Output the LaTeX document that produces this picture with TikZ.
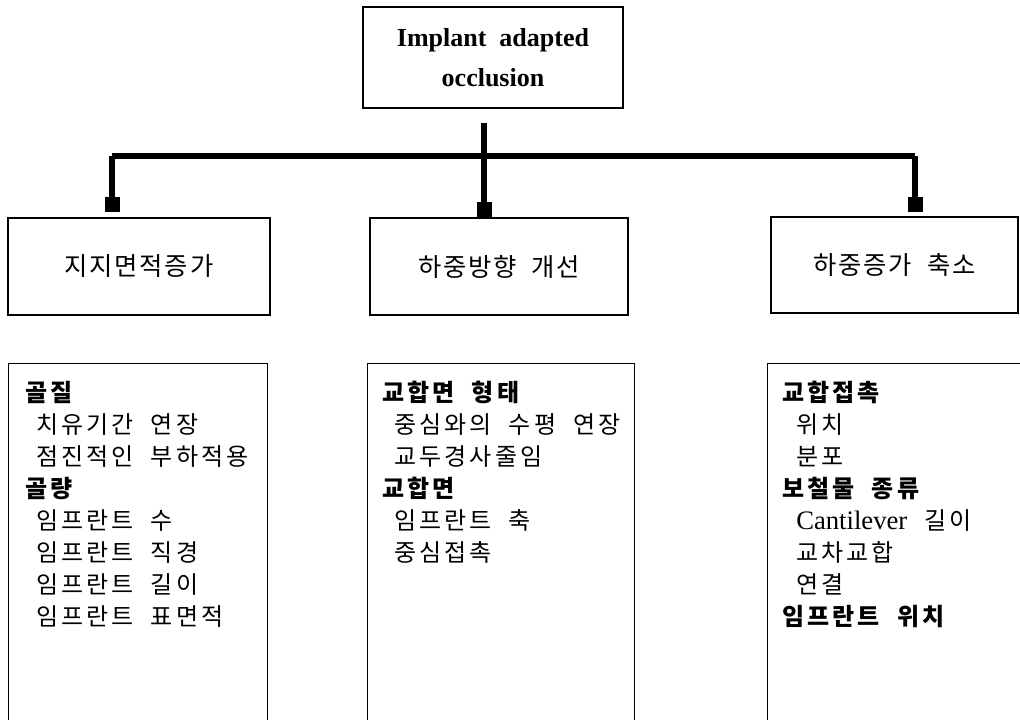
\documentclass[tikz,border=0pt]{standalone}
\usepackage{fontspec}
\setmainfont{Liberation Serif}
\newfontfamily\kr[LetterSpace=13,WordSpace=2]{Noto Sans CJK KR}
\newfontfamily\krm[LetterSpace=7,WordSpace=2]{Noto Sans CJK KR}
\usetikzlibrary{arrows.meta}
\begin{document}
\begin{tikzpicture}[x=0.75pt,y=-0.75pt,
  box/.style={draw, line width=0.8pt, inner sep=0pt, align=center},
  midtxt/.style={font=\krm\fontsize{19}{24}\selectfont},
  head/.style={font=\kr\bfseries\fontsize{18}{24}\selectfont, anchor=base west, inner sep=0pt},
  item/.style={font=\kr\fontsize{18}{24}\selectfont, anchor=base west, inner sep=0pt},
  bar/.style={line width=5pt},
  drop/.style={line width=4.5pt, -{Square[length=11.25pt,width=11.25pt]}},
]
\useasboundingbox (0,0) rectangle (1020,720);
\clip (0,0) rectangle (1020,720);

% top node
\node[box, minimum width=195pt, minimum height=75.75pt,
      font=\bfseries\fontsize{19.5}{30}\selectfont] (top) at (493,57.5)
      {Implant\ \ adapted\\occlusion};

% middle tier
\node[box, midtxt, minimum width=196.5pt, minimum height=72.75pt] (b1) at (139,266.5) {지지면적증가};
\node[box, midtxt, minimum width=193.5pt, minimum height=72.75pt] (b2) at (499,266.5) {하중방향 개선};
\node[box, midtxt, minimum width=185.25pt, minimum height=72pt] (b3) at (894.5,265) {하중증가 축소};

% connectors
\coordinate (stem) at (484,123);
\coordinate (jl) at (112,156);
\coordinate (jr) at (915,156);
\draw[bar] (jl) -- (jr);
\draw[drop] (stem) -- (stem |- b2.north);
\draw[drop, shorten >=3.75pt] (jl) -- (jl |- b1.north);
\draw[drop, shorten >=3pt] (jr) -- (jr |- b3.north);

% bottom boxes
\node[box, anchor=north west, minimum width=194.25pt, minimum height=277.5pt] (c1) at (8,363) {};
\node[box, anchor=north west, minimum width=200.25pt, minimum height=277.5pt] (c2) at (367,363) {};
\node[box, anchor=north west, minimum width=197.25pt, minimum height=277.5pt] (c3) at (767,363) {};

% left column text
\node[head] (l1) at (25,401) {골질};
\node[item] (l2) at (36,433) {치유기간 연장};
\node[item] (l3) at (36,465) {점진적인 부하적용};
\node[head] (l4) at (25,497) {골량};
\node[item] (l5) at (36,529) {임프란트 수};
\node[item] (l6) at (36,561) {임프란트 직경};
\node[item] (l7) at (36,593) {임프란트 길이};
\node[item] (l8) at (36,625) {임프란트 표면적};

% middle column text
\node[head] (m1) at (382,401) {교합면 형태};
\node[item] (m2) at (394,433) {중심와의 수평 연장};
\node[item] (m3) at (394,465) {교두경사줄임};
\node[head] (m4) at (382,497) {교합면};
\node[item] (m5) at (394,529) {임프란트 축};
\node[item] (m6) at (394,561) {중심접촉};

% right column text
\node[head] (r1) at (782,401) {교합접촉};
\node[item] (r2) at (796,433) {위치};
\node[item] (r3) at (796,465) {분포};
\node[head] (r4) at (782,497) {보철물 종류};
\node[item] (r5) at (796,529) {{\rmfamily\fontsize{20}{24}\selectfont Cantilever}\ 길이};
\node[item] (r6) at (796,561) {교차교합};
\node[item] (r7) at (796,593) {연결};
\node[head] (r8) at (782,625) {임프란트 위치};
\end{tikzpicture}
\end{document}
